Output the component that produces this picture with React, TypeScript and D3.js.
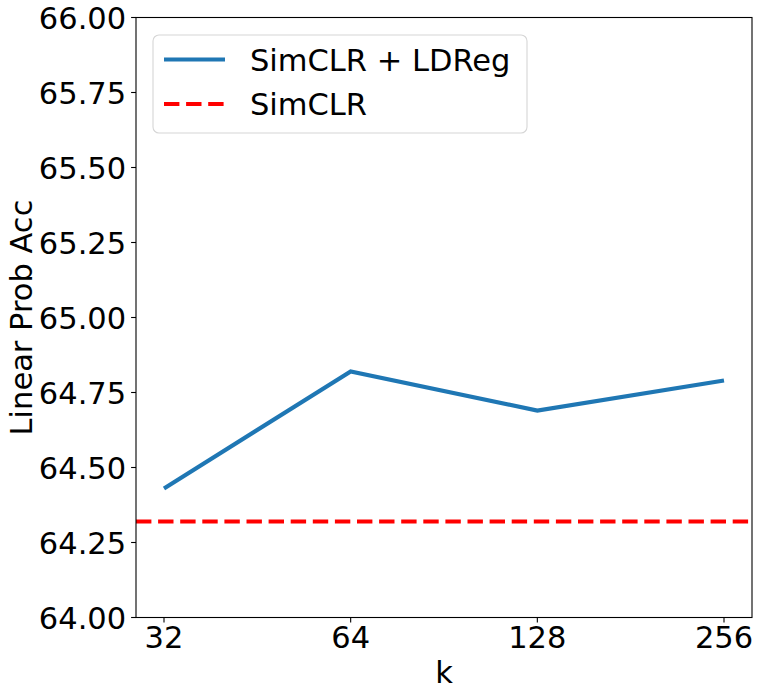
import React from "react";
import * as d3 from "d3";

const kValues = [32, 64, 128, 256];
const ldregAcc = [64.43, 64.82, 64.69, 64.79];
const simclrAcc = 64.32;
const yTicks = [64.0, 64.25, 64.5, 64.75, 65.0, 65.25, 65.5, 65.75, 66.0];
const seriesNames = ["SimCLR + LDReg", "SimCLR"];

const W = 761;
const H = 697;
const L = 136, R = 752, T = 17.5, B = 617.5;
const FONT = "'DejaVu Sans', sans-serif";
const FS = 30.5;

export default function App() {
  const x = d3
    .scaleLog()
    .base(2)
    .domain([32 / Math.pow(2, 0.15), 256 * Math.pow(2, 0.15)])
    .range([L, R]);
  const y = d3.scaleLinear().domain([64, 66]).range([B, T]);
  const line = d3
    .line<number>()
    .x((_, i) => x(kValues[i]))
    .y((d) => y(d));

  const tickLen = 4.9;
  return (
    <svg
      width={W}
      height={H}
      style={{ position: "absolute", left: 0, top: 0, background: "#fff" }}
      fontFamily={FONT}
    >
      <rect x={0} y={0} width={W} height={H} fill="#fff" />
      <line
        x1={L}
        x2={R}
        y1={y(simclrAcc)}
        y2={y(simclrAcc)}
        stroke="#ff0000"
        strokeWidth={4.2}
        strokeDasharray="15.4 6.7"
      />
      <path d={line(ldregAcc) || ""} fill="none" stroke="#1f77b4" strokeWidth={4.2} strokeLinejoin="miter" />
      <rect x={L} y={T} width={R - L} height={B - T} fill="none" stroke="#000" strokeWidth={1.1} />
      {yTicks.map((t) => (
        <g key={t}>
          <line x1={L - tickLen} x2={L} y1={y(t)} y2={y(t)} stroke="#000" strokeWidth={1.1} />
          <text x={L - tickLen - 4.9} y={y(t) + 11.5} textAnchor="end" fontSize={FS} fill="#000">
            {t.toFixed(2)}
          </text>
        </g>
      ))}
      {kValues.map((k) => (
        <g key={k}>
          <line x1={x(k)} x2={x(k)} y1={B} y2={B + tickLen} stroke="#000" strokeWidth={1.1} />
          <text x={x(k)} y={B + 30.5} textAnchor="middle" fontSize={FS} fill="#000">
            {k}
          </text>
        </g>
      ))}
      <text x={(L + R) / 2} y={683} textAnchor="middle" fontSize={FS} fill="#000">
        k
      </text>
      <text
        transform={`translate(32,${(T + B) / 2}) rotate(-90)`}
        textAnchor="middle"
        fontSize={FS}
        fill="#000"
      >
        Linear Prob Acc
      </text>
      <rect x={153} y={35} width={374} height={98} rx={6} fill="#fff" fillOpacity={0.8} stroke="#d6d6d6" strokeWidth={1.1} />
      <line x1={164} x2={225} y1={59.5} y2={59.5} stroke="#1f77b4" strokeWidth={4.2} />
      <text x={250} y={70.5} fontSize={FS} fill="#000">
        {seriesNames[0]}
      </text>
      <line x1={164} x2={225} y1={104} y2={104} stroke="#ff0000" strokeWidth={4.2} strokeDasharray="15.4 6.7" />
      <text x={250} y={115} fontSize={FS} fill="#000">
        {seriesNames[1]}
      </text>
    </svg>
  );
}
